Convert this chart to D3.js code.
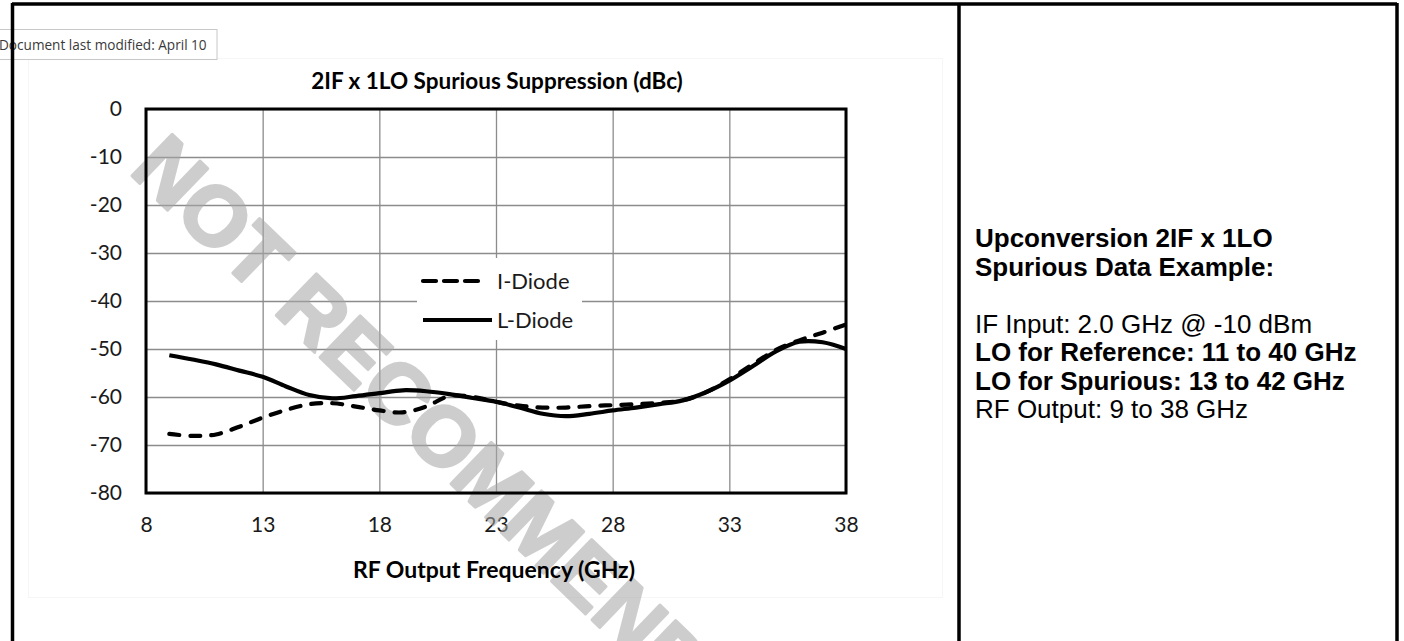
<!DOCTYPE html>
<html>
<head>
<meta charset="utf-8">
<script src="https://cdn.jsdelivr.net/npm/d3@7"></script>
<style>
html, body { margin: 0; padding: 0; background: #fff; }
svg { display: block; }
</style>
</head>
<body>
<svg id="content" width="1404" height="641"></svg>
<script>
// RF output frequency (GHz) of each measured point
const freq = [9, 10, 11, 12, 13, 14, 15, 16, 17, 18, 19, 20, 21, 22, 23,
              24, 25, 26, 27, 28, 29, 30, 31, 32, 33, 34, 35, 36, 37, 38];

// 2IF x 1LO suppression in dBc
const iDiode = [-67.7, -68.1, -67.8, -66.2, -64.3, -62.7, -61.5, -61.3, -62.0, -62.8,
                -63.2, -62.0, -59.8, -60.0, -61.0, -61.8, -62.2, -62.2, -61.9, -61.7,
                -61.5, -61.2, -60.7, -59.0, -56.3, -53.2, -50.2, -48.2, -46.6, -44.9];
const lDiode = [-51.3, -52.2, -53.2, -54.5, -55.8, -57.8, -59.6, -60.3, -59.8, -59.2,
                -58.6, -58.8, -59.4, -60.2, -61.0, -62.2, -63.5, -64.0, -63.5, -62.8,
                -62.2, -61.5, -60.7, -59.0, -56.6, -53.6, -50.5, -48.5, -48.6, -50.0];

const seriesNames = ["I-Diode", "L-Diode"];
const xTicks = [8, 13, 18, 23, 28, 33, 38];
const yTicks = [0, -10, -20, -30, -40, -50, -60, -70, -80];

const chartTitle = "2IF x 1LO Spurious Suppression (dBc)";
const xTitle = "RF Output Frequency (GHz)";
const watermark = "NOT RECOMMENDED";
const tooltipText = "Document last modified: April 10";
const panelLines = ["Upconversion 2IF x 1LO", "Spurious Data Example:", "",
                    "IF Input: 2.0 GHz @ -10 dBm", "LO for Reference: 11 to 40 GHz",
                    "LO for Spurious: 13 to 42 GHz", "RF Output: 9 to 38 GHz"];

const svg = d3.select("#content");
const chartFont = "Lato, 'Open Sans', sans-serif";
const panelFont = "'Liberation Sans', Arial, sans-serif";

// plot area, in page pixels
const plot = { left: 146, right: 846, top: 109, bottom: 493 };

const x = d3.scaleLinear().domain([8, 38]).range([plot.left, plot.right]);
const y = d3.scaleLinear().domain([-80, 0]).range([plot.bottom, plot.top]);

// plain hyphen minus, as Excel prints it
const plainNumber = d => String(d);

// faint Excel chart frame
svg.append("rect")
    .attr("x", 28.5).attr("y", 58.5)
    .attr("width", 914).attr("height", 539)
    .attr("fill", "none").attr("stroke", "#f6f6f6");

// gridlines
svg.append("g")
    .attr("transform", `translate(0,${plot.bottom})`)
    .call(d3.axisBottom(x).tickValues(xTicks).tickSize(-(plot.bottom - plot.top)).tickFormat(""))
    .call(g => g.select(".domain").remove())
    .call(g => g.selectAll("line").attr("stroke", "#8c8c8c").attr("stroke-width", 1.3));

svg.append("g")
    .attr("transform", `translate(${plot.left},0)`)
    .call(d3.axisLeft(y).tickValues(yTicks).tickSize(-(plot.right - plot.left)).tickFormat(""))
    .call(g => g.select(".domain").remove())
    .call(g => g.selectAll("line").attr("stroke", "#8c8c8c").attr("stroke-width", 1.3));

// tick labels
svg.append("g")
    .attr("transform", `translate(${plot.left},0)`)
    .call(d3.axisLeft(y).tickValues(yTicks).tickSize(0).tickPadding(24).tickFormat(plainNumber))
    .call(g => g.select(".domain").remove())
    .call(g => g.selectAll("text")
        .attr("font-family", chartFont).attr("font-size", 21).attr("fill", "#1a1a1a"));

svg.append("g")
    .attr("transform", `translate(0,${plot.bottom})`)
    .call(d3.axisBottom(x).tickValues(xTicks).tickSize(0).tickPadding(24).tickFormat(plainNumber))
    .call(g => g.select(".domain").remove())
    .call(g => g.selectAll("text")
        .attr("font-family", chartFont).attr("font-size", 21).attr("fill", "#1a1a1a"));

// legend background hides the grid behind it
svg.append("rect")
    .attr("x", 417).attr("y", 258)
    .attr("width", 165).attr("height", 82)
    .attr("fill", "#fff");

// watermark, grouped so fill and stroke blend as one layer
svg.append("g")
    .attr("opacity", 0.55)
    .append("text")
    .attr("transform", "translate(128,172) rotate(44)")
    .attr("font-family", panelFont)
    .attr("font-weight", "bold")
    .attr("font-size", 84)
    .attr("fill", "#a6a6a6")
    .attr("stroke", "#a6a6a6")
    .attr("stroke-width", 3)
    .attr("stroke-linejoin", "round")
    .text(watermark);

// plot frame
svg.append("rect")
    .attr("x", plot.left).attr("y", plot.top)
    .attr("width", plot.right - plot.left).attr("height", plot.bottom - plot.top)
    .attr("fill", "none").attr("stroke", "#000").attr("stroke-width", 3);

// series lines
const line = d3.line()
    .x(d => x(d[0]))
    .y(d => y(d[1]))
    .curve(d3.curveCatmullRom.alpha(0.5));

const series = [
    { name: seriesNames[0], values: iDiode, dash: "10,11" },
    { name: seriesNames[1], values: lDiode, dash: null }
];

svg.append("g").selectAll("path")
    .data(series)
    .enter()
    .append("path")
    .attr("d", s => line(d3.zip(freq, s.values)))
    .attr("fill", "none")
    .attr("stroke", "#000")
    .attr("stroke-width", 4.2)
    .attr("stroke-linecap", s => s.dash ? "round" : "butt")
    .attr("stroke-dasharray", s => s.dash);

// legend
const legend = svg.append("g").selectAll("g")
    .data(series)
    .enter()
    .append("g")
    .attr("transform", (s, i) => `translate(0,${281 + i * 39})`);

legend.append("line")
    .attr("x1", 423).attr("x2", s => s.dash ? 483 : 492)
    .attr("stroke", "#000").attr("stroke-width", 4.2)
    .attr("stroke-linecap", s => s.dash ? "round" : "butt")
    .attr("stroke-dasharray", s => s.dash ? "13,8" : null);

legend.append("text")
    .attr("x", 497)
    .attr("dy", "0.35em")
    .attr("font-family", chartFont).attr("font-size", 22).attr("fill", "#1a1a1a")
    .text(s => s.name);

// titles
svg.append("text")
    .attr("x", 497).attr("y", 89)
    .attr("text-anchor", "middle")
    .attr("font-family", chartFont).attr("font-weight", "bold").attr("font-size", 22.5)
    .text(chartTitle);

svg.append("text")
    .attr("x", 494).attr("y", 578)
    .attr("text-anchor", "middle")
    .attr("font-family", chartFont).attr("font-weight", "bold").attr("font-size", 23)
    .text(xTitle);

// hover tooltip captured in the screenshot
svg.append("rect")
    .attr("x", -1).attr("y", 29.5)
    .attr("width", 218).attr("height", 30)
    .attr("fill", "#fff").attr("stroke", "#c8c8c8");
svg.append("text")
    .attr("x", -1).attr("y", 49.5)
    .attr("font-family", "'Open Sans', sans-serif").attr("font-size", 13.6).attr("fill", "#3a3a3a")
    .text(tooltipText);

// table borders
const borders = [
    [12, 4, 1397, 4],
    [12.5, 3, 12.5, 641],
    [959, 3, 959, 641],
    [1397, 3, 1397, 641]
];
svg.append("g").selectAll("line")
    .data(borders)
    .enter()
    .append("line")
    .attr("x1", d => d[0]).attr("y1", d => d[1])
    .attr("x2", d => d[2]).attr("y2", d => d[3])
    .attr("stroke", "#000").attr("stroke-width", 3.5);

// notes panel on the right
const boldRows = new Set([0, 1, 4, 5]);
svg.append("g").selectAll("text")
    .data(panelLines)
    .enter()
    .append("text")
    .attr("x", 975)
    .attr("y", (d, i) => 247 + i * 28.5)
    .attr("font-family", panelFont)
    .attr("font-size", 26)
    .attr("font-weight", (d, i) => boldRows.has(i) ? "bold" : "normal")
    .attr("fill", "#000")
    .text(d => d);
</script>
</body>
</html>
